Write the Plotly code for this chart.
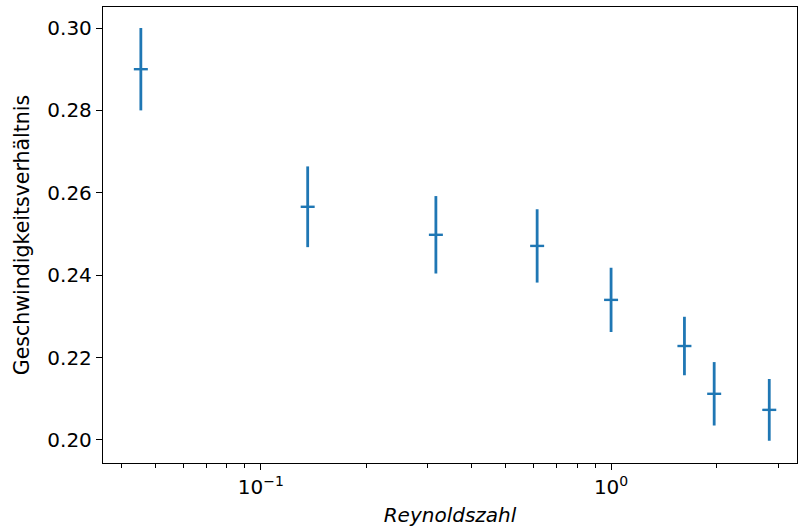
import plotly.graph_objects as go

reynolds = [0.0454, 0.136, 0.316, 0.615, 1.0, 1.62, 1.97, 2.83]
ratio = [0.2900, 0.2566, 0.2498, 0.2471, 0.2340, 0.2228, 0.2112, 0.2073]
ratio_err = [0.0100, 0.0098, 0.0094, 0.0089, 0.0078, 0.0071, 0.0077, 0.0075]

x_tickvals = [0.1, 1.0]
x_ticktext = ["10<sup>\u22121</sup>", "10<sup>0</sup>"]
x_minor_tickvals = [0.04, 0.05, 0.06, 0.07, 0.08, 0.09,
                    0.2, 0.3, 0.4, 0.5, 0.6, 0.7, 0.8, 0.9,
                    2, 3]
y_tickvals = [0.20, 0.22, 0.24, 0.26, 0.28, 0.30]
y_ticktext = ["0.20", "0.22", "0.24", "0.26", "0.28", "0.30"]

color = "#1f77b4"

fig = go.Figure()
fig.add_trace(go.Scatter(
    x=reynolds, y=ratio, mode="markers",
    marker=dict(symbol="line-ew", size=10, color=color,
                line=dict(color=color, width=2.4)),
    error_y=dict(type="data", array=ratio_err, visible=True,
                 color=color, thickness=2.8, width=0),
    showlegend=False,
))

axis_common = dict(
    showline=True, linecolor="black", linewidth=1.3, mirror=True,
    ticks="outside", ticklen=6, tickwidth=1.2, tickcolor="black",
    showgrid=False, zeroline=False,
    tickfont=dict(family="DejaVu Sans", size=20, color="black"),
)

fig.update_layout(
    width=798, height=531,
    margin=dict(l=103, r=1, t=7, b=68),
    plot_bgcolor="white", paper_bgcolor="white",
    font=dict(family="DejaVu Sans", size=20, color="black"),
    xaxis=dict(
        type="log", range=[-1.451, 0.531],
        tickvals=x_tickvals, ticktext=x_ticktext,
        minor=dict(tickvals=x_minor_tickvals, ticks="outside", ticklen=3.5,
                   tickwidth=0.9, tickcolor="black", showgrid=False),
        title=dict(text="<i>Reynoldszahl</i>", font=dict(family="DejaVu Sans", size=20), standoff=9),
        **axis_common,
    ),
    yaxis=dict(
        range=[0.1944, 0.3051],
        tickvals=y_tickvals, ticktext=y_ticktext,
        title=dict(text="Geschwindigkeitsverhältnis", font=dict(family="DejaVu Sans", size=20.5), standoff=12),
        **axis_common,
    ),
)

fig.write_html("out.html")
